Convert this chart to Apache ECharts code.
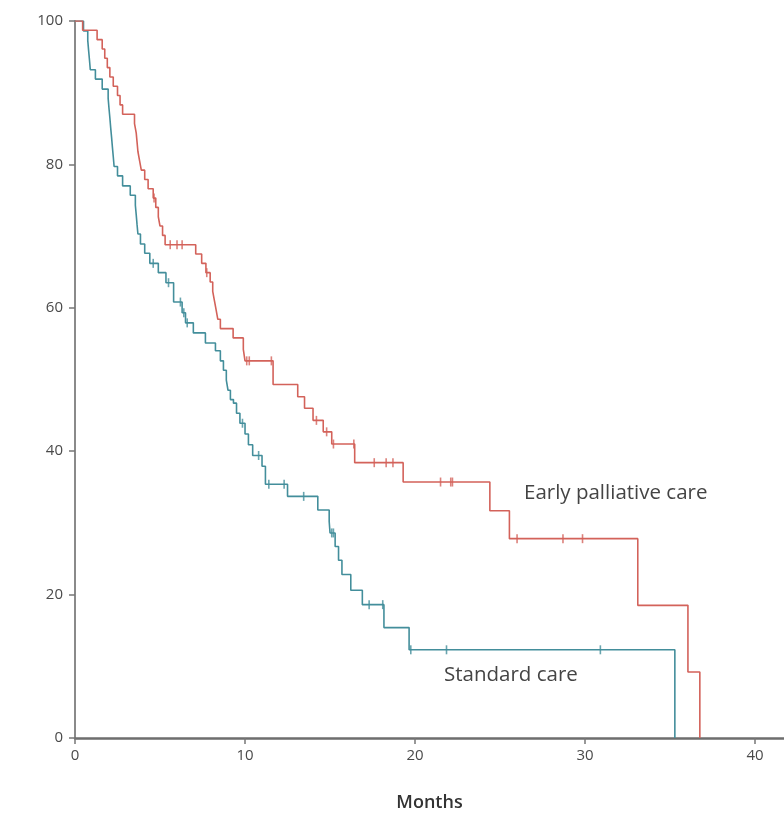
<!DOCTYPE html>
<html>
<head>
<meta charset="utf-8">
<script src="https://cdn.jsdelivr.net/npm/echarts@6/dist/echarts.min.js"></script>
<style>
html,body{margin:0;padding:0;background:#fff;}
#chart{width:784px;height:820px;}
</style>
</head>
<body>
<div id="chart"></div>
<script>
// Kaplan-Meier step points: [months, survival %]
const earlyTimes = [0,0.45,1.3,1.6,1.75,1.9,2.05,2.25,2.5,2.65,2.8,3.5,3.6,3.65,3.7,3.8,3.9,4.1,4.3,4.6,4.75,4.9,5.0,5.15,5.3,7.1,7.45,7.7,7.95,8.1,8.2,8.3,8.4,8.55,9.3,9.9,10.0,11.65,13.1,13.5,14.0,14.6,15.1,16.45,19.3,24.4,25.55,33.1,36.05,36.75];
const earlySurv  = [100,98.7,97.4,96.1,94.8,93.5,92.2,90.9,89.6,88.3,87.0,85.7,84.4,83.1,81.8,80.5,79.2,77.9,76.6,75.3,74.0,72.7,71.4,70.1,68.8,67.5,66.2,64.9,63.6,62.3,61.0,59.7,58.4,57.1,55.8,54.2,52.6,49.3,47.6,46.0,44.3,42.7,41.0,38.4,35.7,31.7,27.8,18.5,9.2,0];
const earlyCensor = [4.65,5.6,6.0,6.3,7.75,10.1,10.25,11.55,14.2,14.8,15.2,16.4,17.6,18.3,18.7,21.5,22.1,22.2,26.0,28.7,29.85];

const stdTimes = [0,0.5,0.75,0.8,0.85,0.9,1.2,1.6,1.95,2.0,2.05,2.1,2.15,2.2,2.25,2.3,2.5,2.8,3.25,3.55,3.6,3.65,3.7,3.85,4.1,4.4,4.9,5.35,5.8,6.3,6.5,6.96,7.67,8.26,8.55,8.73,8.9,9.0,9.14,9.32,9.5,9.7,10.0,10.2,10.45,11.0,11.2,12.5,14.28,14.95,15.0,15.3,15.5,15.7,16.22,16.9,18.17,19.65,35.28];
const stdSurv  = [100,98.6,97.3,95.9,94.6,93.2,91.9,90.5,89.2,87.8,86.5,85.1,83.8,82.4,81.1,79.7,78.4,77.0,75.7,74.3,73.0,71.6,70.3,68.9,67.6,66.2,64.9,63.5,60.8,59.3,57.9,56.5,55.1,54.0,52.6,51.3,49.9,48.5,47.2,46.7,45.3,43.9,42.4,40.9,39.4,37.9,35.4,33.7,31.8,30.2,28.6,26.7,24.8,22.8,20.6,18.6,15.4,12.3,0];
const stdCensor = [4.6,5.5,6.2,6.4,6.6,9.85,10.8,11.4,12.3,13.45,15.1,15.2,17.3,18.1,19.75,21.85,30.9];

const xTicks = [0,10,20,30,40];
const yTicks = [0,20,40,60,80,100];

const RED = '#d3625a';
const TEAL = '#438e9b';

function pairs(t, s){ return t.map((v,i)=>[v, s[i]]); }
function censorPts(ct, t, s){
  return ct.map(c=>{
    let y = s[0];
    for (let i=0;i<t.length;i++){ if (t[i] <= c) y = s[i]; }
    return [c, y];
  });
}

const chart = echarts.init(document.getElementById('chart'), null, {renderer:'canvas'});
const font = '"Open Sans", "Noto Sans", sans-serif';
chart.setOption({
  animation:false,
  backgroundColor:'#fff',
  grid:{left:75, top:21, right:0, bottom:82, outerBoundsMode:'none'},
  xAxis:{
    type:'value', min:0, max:41.7, interval:10,
    name:'Months', nameLocation:'middle', nameGap:56,
    nameTextStyle:{fontFamily:font, fontSize:18, fontWeight:600, color:'#333'},
    axisLine:{show:true, onZero:false, lineStyle:{color:'#6e6e6e', width:2.5}},
    axisTick:{show:true, length:6, customValues:xTicks, lineStyle:{color:'#777', width:1.5}},
    axisLabel:{customValues:xTicks, margin:10, fontFamily:font, fontSize:15, color:'#4a4a4a'},
    splitLine:{show:false}
  },
  yAxis:{
    type:'value', min:0, max:100, interval:20,
    axisLine:{show:true, lineStyle:{color:'#8a8a8a', width:2}},
    axisTick:{show:true, length:6, lineStyle:{color:'#777', width:1.5}},
    axisLabel:{customValues:yTicks, margin:12, fontFamily:font, fontSize:15, color:'#4a4a4a'},
    splitLine:{show:false}
  },
  series:[
    {name:'Standard care', type:'line', step:'end', showSymbol:false, data:pairs(stdTimes, stdSurv),
     lineStyle:{color:TEAL, width:1.6}},
    {name:'Early palliative care', type:'line', step:'end', showSymbol:false, data:pairs(earlyTimes, earlySurv),
     lineStyle:{color:RED, width:1.6}},
    {type:'scatter', data:censorPts(stdCensor, stdTimes, stdSurv), symbol:'rect', symbolSize:[1.6,9],
     itemStyle:{color:TEAL}},
    {type:'scatter', data:censorPts(earlyCensor, earlyTimes, earlySurv), symbol:'rect', symbolSize:[1.6,9],
     itemStyle:{color:RED}}
  ],
  graphic:[
    {type:'text', left:524, top:483, style:{text:'Early palliative care', fontFamily:font, fontSize:20.5, fill:'#444'}},
    {type:'text', left:444, top:665, style:{text:'Standard care', fontFamily:font, fontSize:20.5, fill:'#444'}}
  ]
});
</script>
</body>
</html>
